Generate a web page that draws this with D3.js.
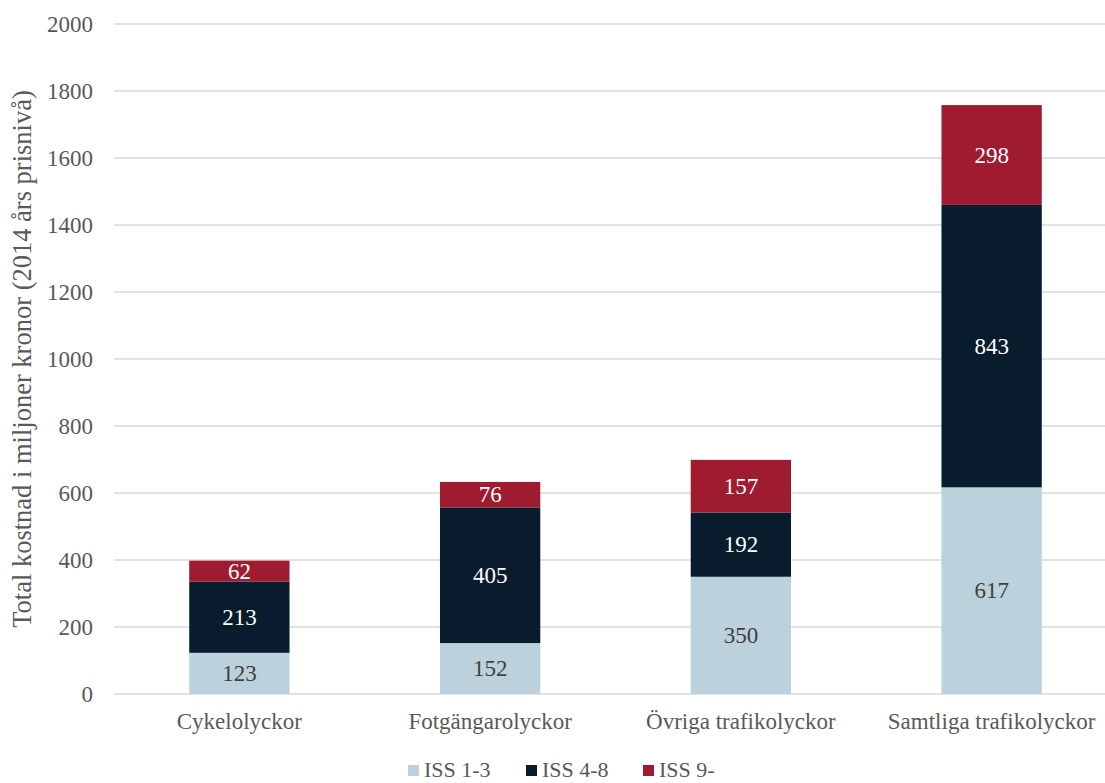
<!DOCTYPE html>
<html>
<head>
<meta charset="utf-8">
<script src="https://cdn.jsdelivr.net/npm/d3@7"></script>
<style>
  body { margin: 0; background: #fff; }
  svg { display: block; }
  svg text { font-family: "Liberation Serif", "Times New Roman", serif; }
</style>
</head>
<body>
<svg id="chart" width="1105" height="783" font-family="Liberation Serif"></svg>
<script>
const categories = ["Cykelolyckor", "Fotgängarolyckor", "Övriga trafikolyckor", "Samtliga trafikolyckor"];
const seriesNames = ["ISS 1-3", "ISS 4-8", "ISS 9-"];
const iss13 = [123, 152, 350, 617];
const iss48 = [213, 405, 192, 843];
const iss9 = [62, 76, 157, 298];
const yTicks = [0, 200, 400, 600, 800, 1000, 1200, 1400, 1600, 1800, 2000];
const colors = ["#BBD1DC", "#081C2D", "#9E1B30"];
const labelColors = ["#404040", "#ffffff", "#ffffff"];

const svg = d3.select("#chart");
const y = d3.scaleLinear().domain([0, 2000]).range([694, 24]);
const x = d3.scaleBand().domain(categories).range([114, 1117]).paddingInner(0.6).paddingOuter(0.3);

const rows = categories.map((c, i) => ({ cat: c, "ISS 1-3": iss13[i], "ISS 4-8": iss48[i], "ISS 9-": iss9[i] }));
const stacked = d3.stack().keys(seriesNames)(rows);

// gridlines
svg.append("g").selectAll("line").data(yTicks).join("line")
  .attr("x1", 114).attr("x2", 1105)
  .attr("y1", d => y(d)).attr("y2", d => y(d))
  .attr("stroke", "#d9d9d9").attr("stroke-width", 1.5);

// y axis
const yAxis = svg.append("g").attr("transform", "translate(93,0)")
  .call(d3.axisLeft(y).tickValues(yTicks).tickSize(0).tickPadding(0).tickFormat(d3.format("d")));
yAxis.attr("font-family", "Liberation Serif").attr("font-size", 23);
yAxis.select(".domain").remove();
yAxis.selectAll("text").attr("fill", "#595959").attr("dy", "0.34em");

// x axis
const xAxis = svg.append("g").attr("transform", "translate(0,729)")
  .call(d3.axisBottom(x).tickSize(0).tickPadding(0));
xAxis.attr("font-family", "Liberation Serif").attr("font-size", 23);
xAxis.select(".domain").remove();
xAxis.selectAll("text").attr("fill", "#595959").attr("y", 0).attr("dy", "0");

// bars
const groups = svg.append("g").selectAll("g").data(stacked).join("g")
  .attr("fill", (d, i) => colors[i]);
groups.selectAll("rect").data(d => d).join("rect")
  .attr("x", d => x(d.data.cat))
  .attr("width", x.bandwidth())
  .attr("y", d => y(d[1]))
  .attr("height", d => y(d[0]) - y(d[1]));

// labels
stacked.forEach((s, si) => {
  svg.append("g").selectAll("text").data(s).join("text")
    .attr("x", d => x(d.data.cat) + x.bandwidth() / 2)
    .attr("y", d => (y(d[0]) + y(d[1])) / 2)
    .attr("dy", "0.34em")
    .attr("text-anchor", "middle")
    .attr("fill", labelColors[si])
    .attr("font-size", 23)
    .text(d => d[1] - d[0]);
});

// y axis title
svg.append("text")
  .attr("transform", "translate(31,359) rotate(-90)")
  .attr("text-anchor", "middle")
  .attr("fill", "#595959")
  .attr("font-size", 26.5)
  .text("Total kostnad i miljoner kronor (2014 års prisnivå)");

// legend
const legendX = [408, 526, 643];
const legend = svg.append("g").selectAll("g").data(seriesNames).join("g")
  .attr("transform", (d, i) => `translate(${legendX[i]},765)`);
legend.append("rect").attr("width", 11).attr("height", 11).attr("fill", (d, i) => colors[i]);
legend.append("text").attr("x", 16).attr("y", 12)
  .attr("fill", "#595959").attr("font-size", 22).text(d => d);
</script>
</body>
</html>
